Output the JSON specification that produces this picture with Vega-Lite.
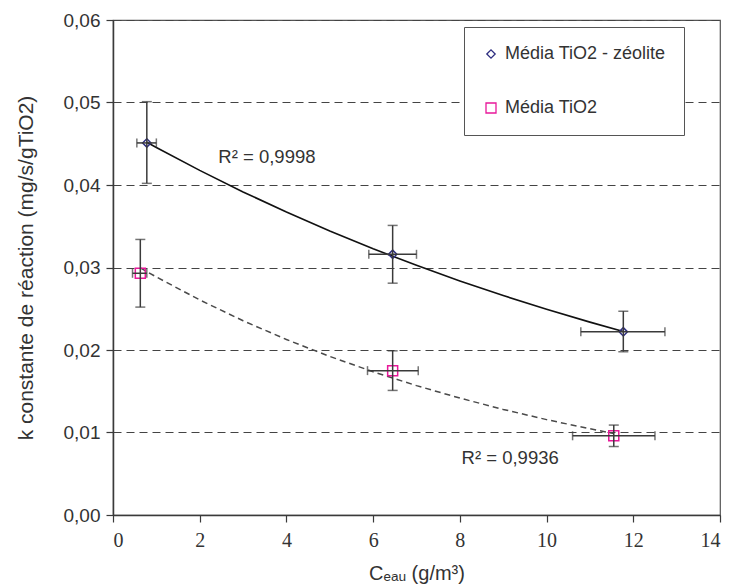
{
  "$schema": "https://vega.github.io/schema/vega-lite/v6.json",
  "width": 607,
  "height": 495,
  "autosize": "none",
  "padding": {"left": 113, "top": 20, "right": 11, "bottom": 71},
  "background": "white",
  "config": {
    "font": "Liberation Sans",
    "locale": {"number": {"decimal": ",", "thousands": " ", "grouping": [3], "currency": ["", " €"]}},
    "view": {"stroke": "#555", "strokeWidth": 1.2},
    "axis": {"labelColor": "#333", "titleFontWeight": "normal", "titleColor": "#333", "domainColor": "#3a3a3a", "domainWidth": 1.5, "tickColor": "#3a3a3a", "tickWidth": 1.2, "tickSize": 7}
  },
  "datasets": {
    "pts": [
      {"series": "Média TiO2 - zéolite", "x": 0.78, "y": 0.0451, "xlo": 0.55, "xhi": 1.0, "ylo": 0.0402, "yhi": 0.0501},
      {"series": "Média TiO2 - zéolite", "x": 6.45, "y": 0.0316, "xlo": 5.9, "xhi": 7.0, "ylo": 0.0281, "yhi": 0.0351},
      {"series": "Média TiO2 - zéolite", "x": 11.77, "y": 0.0222, "xlo": 10.79, "xhi": 12.73, "ylo": 0.0198, "yhi": 0.0247},
      {"series": "Média TiO2", "x": 0.63, "y": 0.0293, "xlo": 0.45, "xhi": 0.78, "ylo": 0.0252, "yhi": 0.0334},
      {"series": "Média TiO2", "x": 6.45, "y": 0.0175, "xlo": 5.87, "xhi": 7.04, "ylo": 0.0151, "yhi": 0.0199},
      {"series": "Média TiO2", "x": 11.55, "y": 0.0096, "xlo": 10.6, "xhi": 12.5, "ylo": 0.0083, "yhi": 0.0109}
    ],
    "curves": [
      {"series": "z", "x": 0.78, "y": 0.04518},
      {"series": "z", "x": 1, "y": 0.04455},
      {"series": "z", "x": 2, "y": 0.04177},
      {"series": "z", "x": 3, "y": 0.03916},
      {"series": "z", "x": 4, "y": 0.03672},
      {"series": "z", "x": 5, "y": 0.03442},
      {"series": "z", "x": 6, "y": 0.03227},
      {"series": "z", "x": 7, "y": 0.03026},
      {"series": "z", "x": 8, "y": 0.02837},
      {"series": "z", "x": 9, "y": 0.0266},
      {"series": "z", "x": 10, "y": 0.02493},
      {"series": "z", "x": 11, "y": 0.02338},
      {"series": "z", "x": 11.77, "y": 0.02224},
      {"series": "t", "x": 0.63, "y": 0.02996},
      {"series": "t", "x": 1, "y": 0.02885},
      {"series": "t", "x": 2, "y": 0.02607},
      {"series": "t", "x": 3, "y": 0.02355},
      {"series": "t", "x": 4, "y": 0.02127},
      {"series": "t", "x": 5, "y": 0.01922},
      {"series": "t", "x": 6, "y": 0.01736},
      {"series": "t", "x": 7, "y": 0.01568},
      {"series": "t", "x": 8, "y": 0.01417},
      {"series": "t", "x": 9, "y": 0.0128},
      {"series": "t", "x": 10, "y": 0.01156},
      {"series": "t", "x": 11, "y": 0.01045},
      {"series": "t", "x": 11.55, "y": 0.00988}
    ],
    "labels": [
      {"x": 3.55, "y": 0.0434, "text": "R² = 0,9998"},
      {"x": 9.16, "y": 0.0069, "text": "R² = 0,9936"}
    ]
  },
  "layer": [
    {
      "data": {"name": "curves"},
      "transform": [{"filter": "datum.series === 'z'"}],
      "mark": {"type": "line", "color": "#111", "strokeWidth": 1.6},
      "encoding": {
        "x": {"field": "x", "type": "quantitative", "scale": {"domain": [0, 14], "nice": false, "zero": false}, "title": "Cₑₐᵤ (g/m³)", "axis": {"values": [0, 2, 4, 6, 8, 10, 12, 14], "grid": false, "labelFont": "Liberation Sans Narrow", "labelFontSize": 20, "labelPadding": 8, "titleFontSize": 20, "titlePadding": 13}},
        "y": {"field": "y", "type": "quantitative", "scale": {"domain": [0, 0.06], "nice": false, "zero": false}, "title": "k constante de réaction (mg/s/gTiO2)", "axis": {"values": [0, 0.01, 0.02, 0.03, 0.04, 0.05, 0.06], "format": ".2f", "grid": true, "gridColor": "#444", "gridDash": [8, 5], "gridWidth": 1.1, "labelFontSize": 19, "labelPadding": 6, "titleFontSize": 21, "titlePadding": 27}}
      }
    },
    {
      "data": {"name": "curves"},
      "transform": [{"filter": "datum.series === 't'"}],
      "mark": {"type": "line", "color": "#4a4a4a", "strokeWidth": 1.5, "strokeDash": [6, 4]},
      "encoding": {
        "x": {"field": "x", "type": "quantitative", "title": "Cₑₐᵤ (g/m³)"},
        "y": {"field": "y", "type": "quantitative", "title": "k constante de réaction (mg/s/gTiO2)"}
      }
    },
    {
      "data": {"name": "pts"},
      "mark": {"type": "point", "filled": false, "strokeWidth": 1.5, "opacity": 1},
      "encoding": {
        "x": {"field": "x", "type": "quantitative", "title": "Cₑₐᵤ (g/m³)"},
        "y": {"field": "y", "type": "quantitative", "title": "k constante de réaction (mg/s/gTiO2)"},
        "color": {"field": "series", "type": "nominal", "scale": {"domain": ["Média TiO2 - zéolite", "Média TiO2"], "range": ["#2e2e80", "#e8189a"]}, "legend": {"title": null, "orient": "none", "legendX": 351, "legendY": 7, "labelFontSize": 18, "labelColor": "#333", "labelFont": "Liberation Sans", "labelOffset": 5, "symbolStrokeWidth": 1.3, "symbolSize": 64, "rowPadding": 36, "padding": 18, "strokeColor": "#555", "fillColor": "white", "labelLimit": 300}},
        "shape": {"field": "series", "type": "nominal", "scale": {"domain": ["Média TiO2 - zéolite", "Média TiO2"], "range": ["diamond", "square"]}},
        "size": {"field": "series", "type": "nominal", "scale": {"domain": ["Média TiO2 - zéolite", "Média TiO2"], "range": [70, 100]}, "legend": null}
      }
    },
    {
      "data": {"name": "pts"},
      "mark": {"type": "errorbar", "color": "#3a3a3a", "thickness": 1.5, "ticks": {"size": 10, "color": "#3a3a3a", "strokeWidth": 1.5}},
      "encoding": {
        "x": {"field": "x", "type": "quantitative", "title": "Cₑₐᵤ (g/m³)"},
        "y": {"field": "ylo", "type": "quantitative", "title": "k constante de réaction (mg/s/gTiO2)"},
        "y2": {"field": "yhi"}
      }
    },
    {
      "data": {"name": "pts"},
      "mark": {"type": "errorbar", "color": "#3a3a3a", "thickness": 1.5, "ticks": {"size": 9, "color": "#3a3a3a", "strokeWidth": 1.5}},
      "encoding": {
        "y": {"field": "y", "type": "quantitative", "title": "k constante de réaction (mg/s/gTiO2)"},
        "x": {"field": "xlo", "type": "quantitative", "title": "Cₑₐᵤ (g/m³)"},
        "x2": {"field": "xhi"}
      }
    },
    {
      "data": {"name": "labels"},
      "mark": {"type": "text", "fontSize": 18.5, "color": "#333", "font": "Liberation Sans"},
      "encoding": {
        "x": {"field": "x", "type": "quantitative", "title": "Cₑₐᵤ (g/m³)"},
        "y": {"field": "y", "type": "quantitative", "title": "k constante de réaction (mg/s/gTiO2)"},
        "text": {"field": "text"}
      }
    }
  ]
}
